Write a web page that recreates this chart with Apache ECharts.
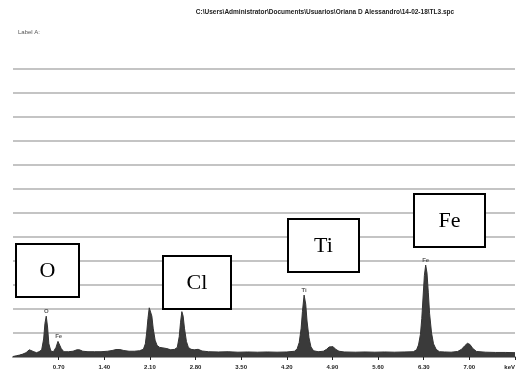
<!DOCTYPE html>
<html>
<head>
<meta charset="utf-8">
<script src="https://cdn.jsdelivr.net/npm/echarts@6/dist/echarts.min.js"></script>
<style>
  html, body { margin: 0; padding: 0; background: #fff; }
  #chart { width: 518px; height: 374px; }
</style>
</head>
<body>
<div id="chart"></div>
<script>
// EDS spectrum: energy (keV) and counts (grid units)
const energyKeV = [
  0.00, 0.05, 0.10, 0.15, 0.20, 0.25, 0.28, 0.32, 0.36, 0.40,
  0.44, 0.47, 0.49, 0.51, 0.53, 0.55, 0.58, 0.62, 0.66, 0.69,
  0.71, 0.74, 0.78, 0.85, 0.92, 0.98, 1.02, 1.07, 1.15, 1.25,
  1.35, 1.45, 1.52, 1.58, 1.64, 1.70, 1.78, 1.86, 1.94, 2.00,
  2.03, 2.05, 2.07, 2.09, 2.11, 2.13, 2.15, 2.18, 2.21, 2.25,
  2.30, 2.36, 2.42, 2.48, 2.52, 2.55, 2.57, 2.59, 2.61, 2.63,
  2.66, 2.69, 2.73, 2.78, 2.84, 2.90, 3.00, 3.15, 3.30, 3.45,
  3.60, 3.75, 3.90, 4.05, 4.20, 4.32, 4.36, 4.39, 4.42, 4.44,
  4.465, 4.49, 4.51, 4.54, 4.57, 4.61, 4.68, 4.76, 4.81, 4.85,
  4.88, 4.91, 4.95, 5.00, 5.08, 5.25, 5.40, 5.55, 5.70, 5.85,
  6.00, 6.14, 6.19, 6.22, 6.25, 6.27, 6.29, 6.31, 6.33, 6.35,
  6.37, 6.39, 6.42, 6.45, 6.49, 6.54, 6.62, 6.72, 6.82, 6.88,
  6.93, 6.97, 7.01, 7.05, 7.11, 7.25, 7.40, 7.55, 7.70
];
const counts = [
  0.02, 0.05, 0.08, 0.12, 0.18, 0.30, 0.33, 0.22, 0.18, 0.22,
  0.30, 0.75, 1.40, 1.70, 1.25, 0.55, 0.25, 0.22, 0.40, 0.65,
  0.62, 0.35, 0.22, 0.22, 0.24, 0.30, 0.30, 0.24, 0.22, 0.22,
  0.22, 0.24, 0.27, 0.31, 0.31, 0.27, 0.24, 0.24, 0.26, 0.32,
  0.55, 1.00, 1.60, 2.05, 2.05, 1.70, 1.20, 0.70, 0.48, 0.40,
  0.38, 0.35, 0.30, 0.32, 0.40, 0.85, 1.45, 1.89, 1.70, 1.20,
  0.65, 0.40, 0.32, 0.30, 0.32, 0.25, 0.22, 0.21, 0.22, 0.20,
  0.21, 0.20, 0.21, 0.20, 0.21, 0.24, 0.35, 0.60, 1.20, 1.90,
  2.58, 2.20, 1.50, 0.80, 0.42, 0.26, 0.22, 0.24, 0.32, 0.42,
  0.47, 0.43, 0.32, 0.24, 0.21, 0.20, 0.21, 0.20, 0.21, 0.20,
  0.21, 0.22, 0.30, 0.50, 0.95, 1.60, 2.50, 3.40, 3.83, 3.50,
  2.70, 1.80, 1.00, 0.55, 0.32, 0.22, 0.21, 0.20, 0.23, 0.32,
  0.47, 0.57, 0.52, 0.36, 0.23, 0.20, 0.19, 0.19, 0.18
];

// small peak labels drawn by the software
const peakNames = ['O', 'Fe', 'Ti', 'Fe'];
const peakKeV = [0.51, 0.70, 4.465, 6.33];
const peakCounts = [1.70, 0.65, 2.58, 3.83];

// boxed element annotations added on top
const boxNames = ['O', 'Cl', 'Ti', 'Fe'];
const boxRects = [
  [16, 244, 63, 53],
  [163, 256, 68, 53],
  [288, 219, 71, 53],
  [414, 194, 71, 53]
];

const chart = echarts.init(document.getElementById('chart'));

const boxes = [];
boxNames.forEach((name, i) => {
  const [x, y, w, h] = boxRects[i];
  boxes.push({
    type: 'rect',
    z: 100,
    shape: { x: x, y: y, width: w, height: h },
    style: { fill: '#fff', stroke: '#000', lineWidth: 2 }
  });
  boxes.push({
    type: 'text',
    z: 101,
    x: x + w / 2,
    y: y + h / 2 + 1,
    style: {
      text: name,
      fill: '#000',
      font: '22px "Liberation Serif", serif',
      align: 'center',
      verticalAlign: 'middle'
    }
  });
});

chart.setOption({
  backgroundColor: '#fff',
  animation: false,
  title: [
    {
      text: 'C:\\Users\\Administrator\\Documents\\Usuarios\\Oriana D Alessandro\\14-02-18\\TL3.spc',
      left: 320,
      top: 4,
      textAlign: 'center',
      textStyle: {
        fontFamily: '"Liberation Sans", sans-serif',
        fontSize: 6.5,
        fontWeight: 'bold',
        color: '#222'
      }
    },
    {
      text: 'Label A:',
      left: 13,
      top: 24,
      textStyle: {
        fontFamily: '"Liberation Sans", sans-serif',
        fontSize: 6,
        fontWeight: 'normal',
        color: '#555'
      }
    }
  ],
  grid: { left: 13, right: 1, top: 69, bottom: 17 },
  xAxis: {
    type: 'value',
    min: 0,
    max: 7.7,
    interval: 0.7,
    axisLine: { show: true, lineStyle: { color: '#999', width: 2 } },
    axisTick: { show: true, length: 3, lineStyle: { color: '#222', width: 1 } },
    splitLine: { show: false },
    axisLabel: {
      color: '#222',
      fontFamily: '"Liberation Sans", sans-serif',
      fontSize: 6,
      fontWeight: 'bold',
      margin: 7,
      showMinLabel: false,
      alignMaxLabel: 'right',
      formatter: v => (Math.abs(v - 7.7) < 1e-6 ? 'keV' : v.toFixed(2))
    }
  },
  yAxis: {
    type: 'value',
    min: 0,
    max: 12,
    interval: 1,
    axisLine: { show: false },
    axisTick: { show: false },
    axisLabel: { show: false },
    splitLine: { show: true, lineStyle: { color: '#c4c4c4', width: 2 } }
  },
  series: [
    {
      type: 'line',
      data: energyKeV.map((e, i) => [e, counts[i]]),
      showSymbol: false,
      smooth: false,
      lineStyle: { color: '#333', width: 1 },
      areaStyle: { color: '#3a3a3a', opacity: 1 },
      z: 3
    },
    {
      type: 'scatter',
      data: peakKeV.map((e, i) => [e, peakCounts[i]]),
      symbolSize: 0,
      label: {
        show: true,
        position: 'top',
        distance: 2,
        formatter: p => peakNames[p.dataIndex],
        color: '#333',
        fontFamily: '"Liberation Sans", sans-serif',
        fontSize: 6,
        fontWeight: 'bold'
      },
      z: 4
    }
  ],
  graphic: boxes
});
</script>
</body>
</html>
